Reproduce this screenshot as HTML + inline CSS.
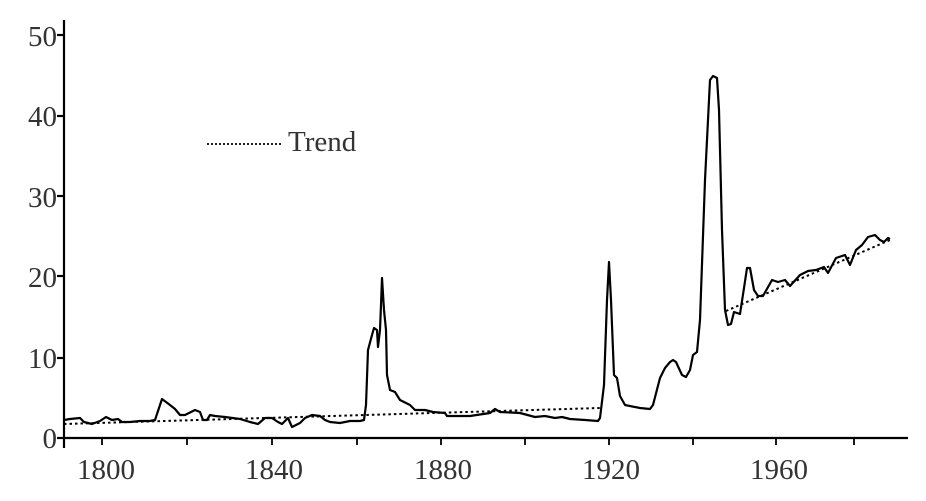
<!DOCTYPE html>
<html><head><meta charset="utf-8"><style>
html,body{margin:0;padding:0;background:#fff}
svg text{font-family:"Liberation Serif",serif;fill:#333}
</style></head><body>
<svg width="926" height="496" viewBox="0 0 926 496" xmlns="http://www.w3.org/2000/svg">
<g stroke="#000" stroke-width="2.2" fill="none">
<line x1="64" y1="20" x2="64" y2="448"/>
<line x1="63" y1="438" x2="908" y2="438"/>
<line x1="57" y1="438" x2="64" y2="438"/>
<line x1="57" y1="358" x2="64" y2="358"/>
<line x1="57" y1="276" x2="64" y2="276"/>
<line x1="57" y1="196" x2="64" y2="196"/>
<line x1="57" y1="116" x2="64" y2="116"/>
<line x1="57" y1="35" x2="64" y2="35"/>
<g stroke-width="1.8">
<line x1="102" y1="438" x2="102" y2="445"/><line x1="187" y1="438" x2="187" y2="445"/>
<line x1="272" y1="438" x2="272" y2="445"/><line x1="357" y1="438" x2="357" y2="445"/>
<line x1="441" y1="438" x2="441" y2="445"/><line x1="525" y1="438" x2="525" y2="445"/>
<line x1="609" y1="438" x2="609" y2="445"/><line x1="693" y1="438" x2="693" y2="445"/>
<line x1="776" y1="438" x2="776" y2="445"/><line x1="854" y1="438" x2="854" y2="445"/>
</g>
</g>
<g font-size="29" text-anchor="end">
<text x="57" y="448">0</text><text x="57" y="368">10</text><text x="57" y="287">20</text>
<text x="57" y="207">30</text><text x="57" y="126">40</text><text x="57" y="46">50</text>
</g>
<g font-size="29" text-anchor="middle">
<text x="106" y="479">1800</text><text x="274" y="479">1840</text><text x="443" y="479">1880</text>
<text x="611" y="479">1920</text><text x="779" y="479">1960</text>
</g>
<line x1="207" y1="144" x2="282" y2="144" stroke="#000" stroke-width="1.8" stroke-dasharray="2,2"/>
<text x="288" y="151" font-size="29">Trend</text>
<g stroke="#000" stroke-width="2" stroke-dasharray="2.5,3" fill="none">
<polyline points="64,424 600,408"/>
<polyline points="726,311 890,240"/>
</g>
<polyline fill="none" stroke="#000" stroke-width="2.2" stroke-linejoin="round" points="64,420 70,419 80,418 84,422 92,424 100,421 106,417 112,420 118,419 122,422 130,422 140,421 150,421 155,420 162,399 170,405 175,409 180,415 185,415 195,410 200,412 203,420 207,420 210,415 215,416 225,417 240,419 250,422 258,424 265,418 272,418 278,422 282,424 288,418 292,427 300,423 305,418 312,415 320,416 325,420 330,422 340,423 350,421 360,421 364,420 366,405 368,350 372,335 374,328 377,330 378,347 380,330 381,305 382,278 384,310 386,330 387,375 390,390 395,392 400,400 410,405 415,410 425,410 433,412 445,413 447,416 460,416 470,416 490,413 495,409 500,412 520,413 535,417 545,416 555,418 562,417 570,419 585,420 598,421 600,418 604,385 607,300 609,262 611,300 614,375 617,378 620,396 625,405 640,408 650,409 653,405 660,378 665,368 670,362 673,360 676,362 682,375 686,377 690,370 693,355 697,352 700,320 705,180 710,80 713,76 717,78 719,110 722,230 725,310 728,325 731,324 734,312 737,313 740,314 744,288 747,268 750,268 754,290 758,296 763,296 772,280 778,282 785,280 790,286 800,275 808,271 816,270 824,267 828,273 836,258 845,255 850,265 856,250 862,245 868,237 875,235 880,240 884,242 888,238 890,239"/>
</svg>
</body></html>
